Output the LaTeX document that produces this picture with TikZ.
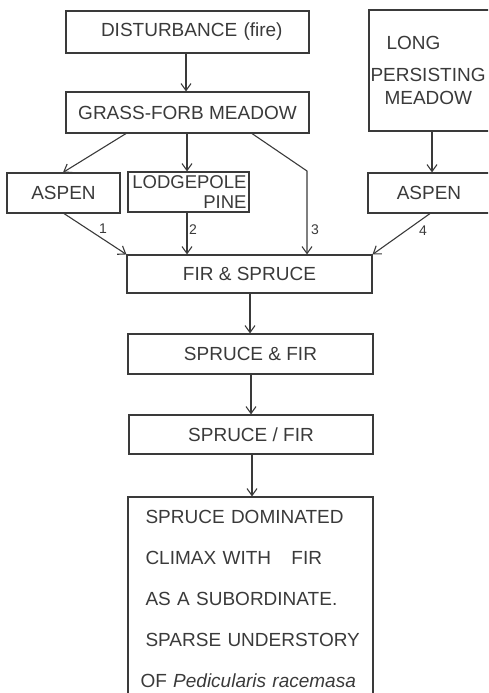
\documentclass[tikz,border=0pt]{standalone}
\usepackage{fontspec}
\setmainfont{Liberation Sans}
\usetikzlibrary{arrows.meta}
\definecolor{ink}{HTML}{3A3A3A}
\begin{document}
\begin{tikzpicture}[x=1pt,y=-1pt,
  box/.style={draw=ink, line width=1.1pt, inner sep=0pt, text=ink,
    font=\fontsize{19}{21}\selectfont, rectangle},
  arr/.style={draw=ink, line width=1.1pt, -{Straight Barb[length=7pt,width=10pt]}},
  num/.style={text=ink, font=\fontsize{14}{15}\selectfont, inner sep=0pt}]
\useasboundingbox (0,0) rectangle (488,693);
\clip (0,0) rectangle (488,693);
% boxes
\node[box, minimum width=243pt, minimum height=42pt, text width=241pt, align=left]
  (dist) at (187.5,32) {\hspace*{34pt}DISTURBANCE (fire)};
\node[box, minimum width=243pt, minimum height=41pt] (grass) at (187.5,112.5) {GRASS-FORB MEADOW};
\node[box, minimum width=121pt, minimum height=121pt, text width=118pt, align=left,
  font=\fontsize{19}{23}\selectfont]
  (long) at (429.5,70.5) {\hspace*{16pt}LONG\\[9pt]PERSISTING\\\hspace*{14pt}MEADOW};
\node[box, minimum width=113pt, minimum height=40pt] (aspenL) at (63.5,193) {ASPEN};
\node[box, minimum width=121pt, minimum height=40pt, text width=116pt, align=right,
  font=\fontsize{18.5}{20}\selectfont]
  (lodge) at (188.5,192) {LODGEPOLE\\PINE};
\node[box, minimum width=122pt, minimum height=40pt] (aspenR) at (429,193) {ASPEN};
\node[box, minimum width=245pt, minimum height=38pt] (fir) at (249.5,274) {FIR \& SPRUCE};
\node[box, minimum width=245pt, minimum height=40pt] (sf) at (250.5,354) {SPRUCE \& FIR};
\node[box, minimum width=244pt, minimum height=39pt] (sfs) at (251,434.5) {SPRUCE / FIR};
\node[box, minimum width=245pt, minimum height=203pt, text width=236pt, align=left,
  font=\fontsize{19}{41}\selectfont]
  (climax) at (250.5,598.5) {\hspace*{13pt}SPRUCE DOMINATED\\\hspace*{13pt}CLIMAX WITH\hspace{14pt} FIR\\\hspace*{13pt}AS A SUBORDINATE.\\\hspace*{13pt}SPARSE UNDERSTORY\\\hspace*{8pt}OF \textit{Pedicularis racemasa}};
% connectors
\coordinate (bend3) at (307,171);
\draw[arr] (dist.south -| 186,0) -- (grass.north -| 186,0);
\draw[arr] (grass.south -| 126,0) -- (aspenL.north -| 63,0);
\draw[arr] (grass.south -| 187,0) -- (lodge.north -| 187,0);
\draw[arr] (grass.south -| 252,0) -- (bend3) -- (fir.north -| 307,0);
\draw[arr] (long.south -| 432,0) -- (aspenR.north -| 432,0);
\draw[arr] (aspenL.south -| 64,0) -- (fir.north west);
\draw[arr] (lodge.south -| 187,0) -- (fir.north -| 187,0);
\draw[arr] (aspenR.south -| 430,0) -- (fir.north east);
\draw[arr] (fir.south -| 250,0) -- (sf.north -| 250,0);
\draw[arr] (sf.south -| 251,0) -- (sfs.north -| 251,0);
\draw[arr] (sfs.south -| 252,0) -- (climax.north -| 252,0);
% labels
\node[num] (n1) at (103,229) {1};
\node[num] (n2) at (193,230) {2};
\node[num] (n3) at (315,230) {3};
\node[num] (n4) at (423,231) {4};
\end{tikzpicture}
\end{document}
